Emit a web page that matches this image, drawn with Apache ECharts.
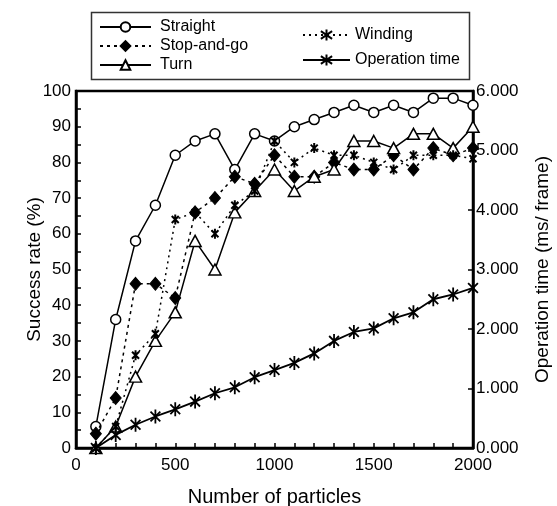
<!DOCTYPE html>
<html>
<head>
<meta charset="utf-8">
<script src="https://cdn.jsdelivr.net/npm/echarts@6/dist/echarts.min.js"></script>
<style>html,body{margin:0;padding:0;background:#fff;}#c{width:557px;height:506px;}</style>
</head>
<body>
<div id="c"></div>
<script>
var particles = [100,200,300,400,500,600,700,800,900,1000,1100,1200,1300,1400,1500,1600,1700,1800,1900,2000];
var straight = [6,36,58,68,82,86,88,78,88,86,90,92,94,96,94,96,94,98,98,96];
var stopAndGo = [4,14,46,46,42,66,70,76,74,82,76,76,80,78,78,82,78,84,82,84];
var turn = [0,6,20,30,38,58,50,66,72,78,72,76,78,86,86,84,88,88,84,90];
var winding = [0,6,26,32,64,66,60,68,72,86,80,84,82,82,80,78,82,82,82,81];
var opTime = [0,0.22,0.39,0.53,0.65,0.78,0.92,1.02,1.19,1.31,1.43,1.59,1.80,1.95,2.01,2.18,2.28,2.50,2.58,2.69];

function pairs(ys){ return particles.map(function(x,i){ return [x, ys[i]]; }); }
var FONT = 'Liberation Sans, Arial, sans-serif';
var star = 'path://M10,0 L10,20 M3,3 L17,17 M3,17 L17,3';

var chart = echarts.init(document.getElementById('c'));
chart.setOption({
  animation: false,
  backgroundColor: '#fff',
  textStyle: { fontFamily: FONT, color: '#000' },
  grid: { left: 76, right: 84, top: 91, bottom: 58, show: true, borderColor: '#000', borderWidth: 2.5, backgroundColor: 'transparent',
          containLabel: false, outerBoundsMode: 'none' },
  graphic: [{ type: 'rect', shape: { x: 91.5, y: 12.5, width: 378, height: 67 }, style: { fill: 'none', stroke: '#333', lineWidth: 1.5 }, z: 0 }],
  legend: [
    { data: ['Straight','Stop-and-go','Turn'], orient: 'vertical', left: 94, top: 14, itemWidth: 51, itemHeight: 12, itemGap: 3,
      textStyle: { fontFamily: FONT, fontSize: 16, color: '#000', lineHeight: 16, padding: [0,0,0,4] } },
    { data: ['Winding','Operation time'], orient: 'vertical', left: 297, top: 22, itemWidth: 47, itemHeight: 14, itemGap: 9,
      textStyle: { fontFamily: FONT, fontSize: 16, color: '#000', lineHeight: 16, padding: [0,0,0,0] } }
  ],
  xAxis: {
    type: 'value', min: 0, max: 2000, interval: 500,
    name: 'Number of particles', nameLocation: 'middle', nameGap: 39, nameMoveOverlap: false,
    nameTextStyle: { fontFamily: FONT, fontSize: 20, color: '#000' },
    axisLine: { show: true, lineStyle: { color: '#000', width: 2.5 } },
    axisTick: { show: true, inside: true, length: 5, lineStyle: { color: '#000', width: 1.5 } },
    minorTick: { show: true, splitNumber: 5, length: 5, lineStyle: { color: '#000', width: 1.5 } },
    axisLabel: { fontFamily: FONT, fontSize: 17, color: '#000', margin: 9, formatter: function(v){ return String(v); } },
    splitLine: { show: false }
  },
  yAxis: [{
    type: 'value', min: 0, max: 100, interval: 10, position: 'left',
    name: 'Success rate (%)', nameLocation: 'middle', nameGap: 32, nameMoveOverlap: false,
    nameTextStyle: { fontFamily: FONT, fontSize: 19, color: '#000' },
    axisLine: { show: true, lineStyle: { color: '#000', width: 2.5 } },
    axisTick: { show: true, inside: true, length: 5, lineStyle: { color: '#000', width: 1.5 } },
    minorTick: { show: true, splitNumber: 2, length: 5, lineStyle: { color: '#000', width: 1.5 } },
    axisLabel: { fontFamily: FONT, fontSize: 17, color: '#000', margin: 5 },
    splitLine: { show: false }
  }, {
    type: 'value', min: 0, max: 6, interval: 1, position: 'right',
    name: 'Operation time (ms/ frame)', nameLocation: 'middle', nameGap: 60, nameMoveOverlap: false,
    nameTextStyle: { fontFamily: FONT, fontSize: 19, color: '#000' },
    axisLine: { show: true, lineStyle: { color: '#000', width: 2.5 } },
    axisTick: { show: true, inside: true, length: 5, lineStyle: { color: '#000', width: 1.5 } },
    axisLabel: { fontFamily: FONT, fontSize: 17, color: '#000', margin: 3, formatter: function(v){ return v.toFixed(3); } },
    splitLine: { show: false }
  }],
  series: [
    { name: 'Straight', type: 'line', data: pairs(straight), symbol: 'circle', symbolSize: 10,
      lineStyle: { color: '#000', width: 1.5 }, itemStyle: { color: '#fff', borderColor: '#000', borderWidth: 1.5 }, z: 2 },
    { name: 'Stop-and-go', type: 'line', data: pairs(stopAndGo), symbol: 'diamond', symbolSize: [11,13],
      lineStyle: { color: '#000', width: 1.5, type: [3,4] }, itemStyle: { color: '#000', borderColor: '#000', borderWidth: 1 }, z: 3 },
    { name: 'Turn', type: 'line', data: pairs(turn), symbol: 'triangle', symbolSize: [12,11],
      lineStyle: { color: '#000', width: 1.5 }, itemStyle: { color: '#fff', borderColor: '#000', borderWidth: 1.5 }, z: 4 },
    { name: 'Winding', type: 'line', data: pairs(winding), symbol: star, symbolSize: 10, symbolKeepAspect: true,
      lineStyle: { color: '#000', width: 1.5, type: [2,4] }, itemStyle: { color: '#000', borderColor: '#000', borderWidth: 2 }, z: 5 },
    { name: 'Operation time', type: 'line', yAxisIndex: 1, data: pairs(opTime), symbol: star, symbolSize: 14, symbolKeepAspect: true,
      lineStyle: { color: '#000', width: 1.8 }, itemStyle: { color: '#000', borderColor: '#000', borderWidth: 1.8 }, z: 6 }
  ]
});
</script>
</body>
</html>
